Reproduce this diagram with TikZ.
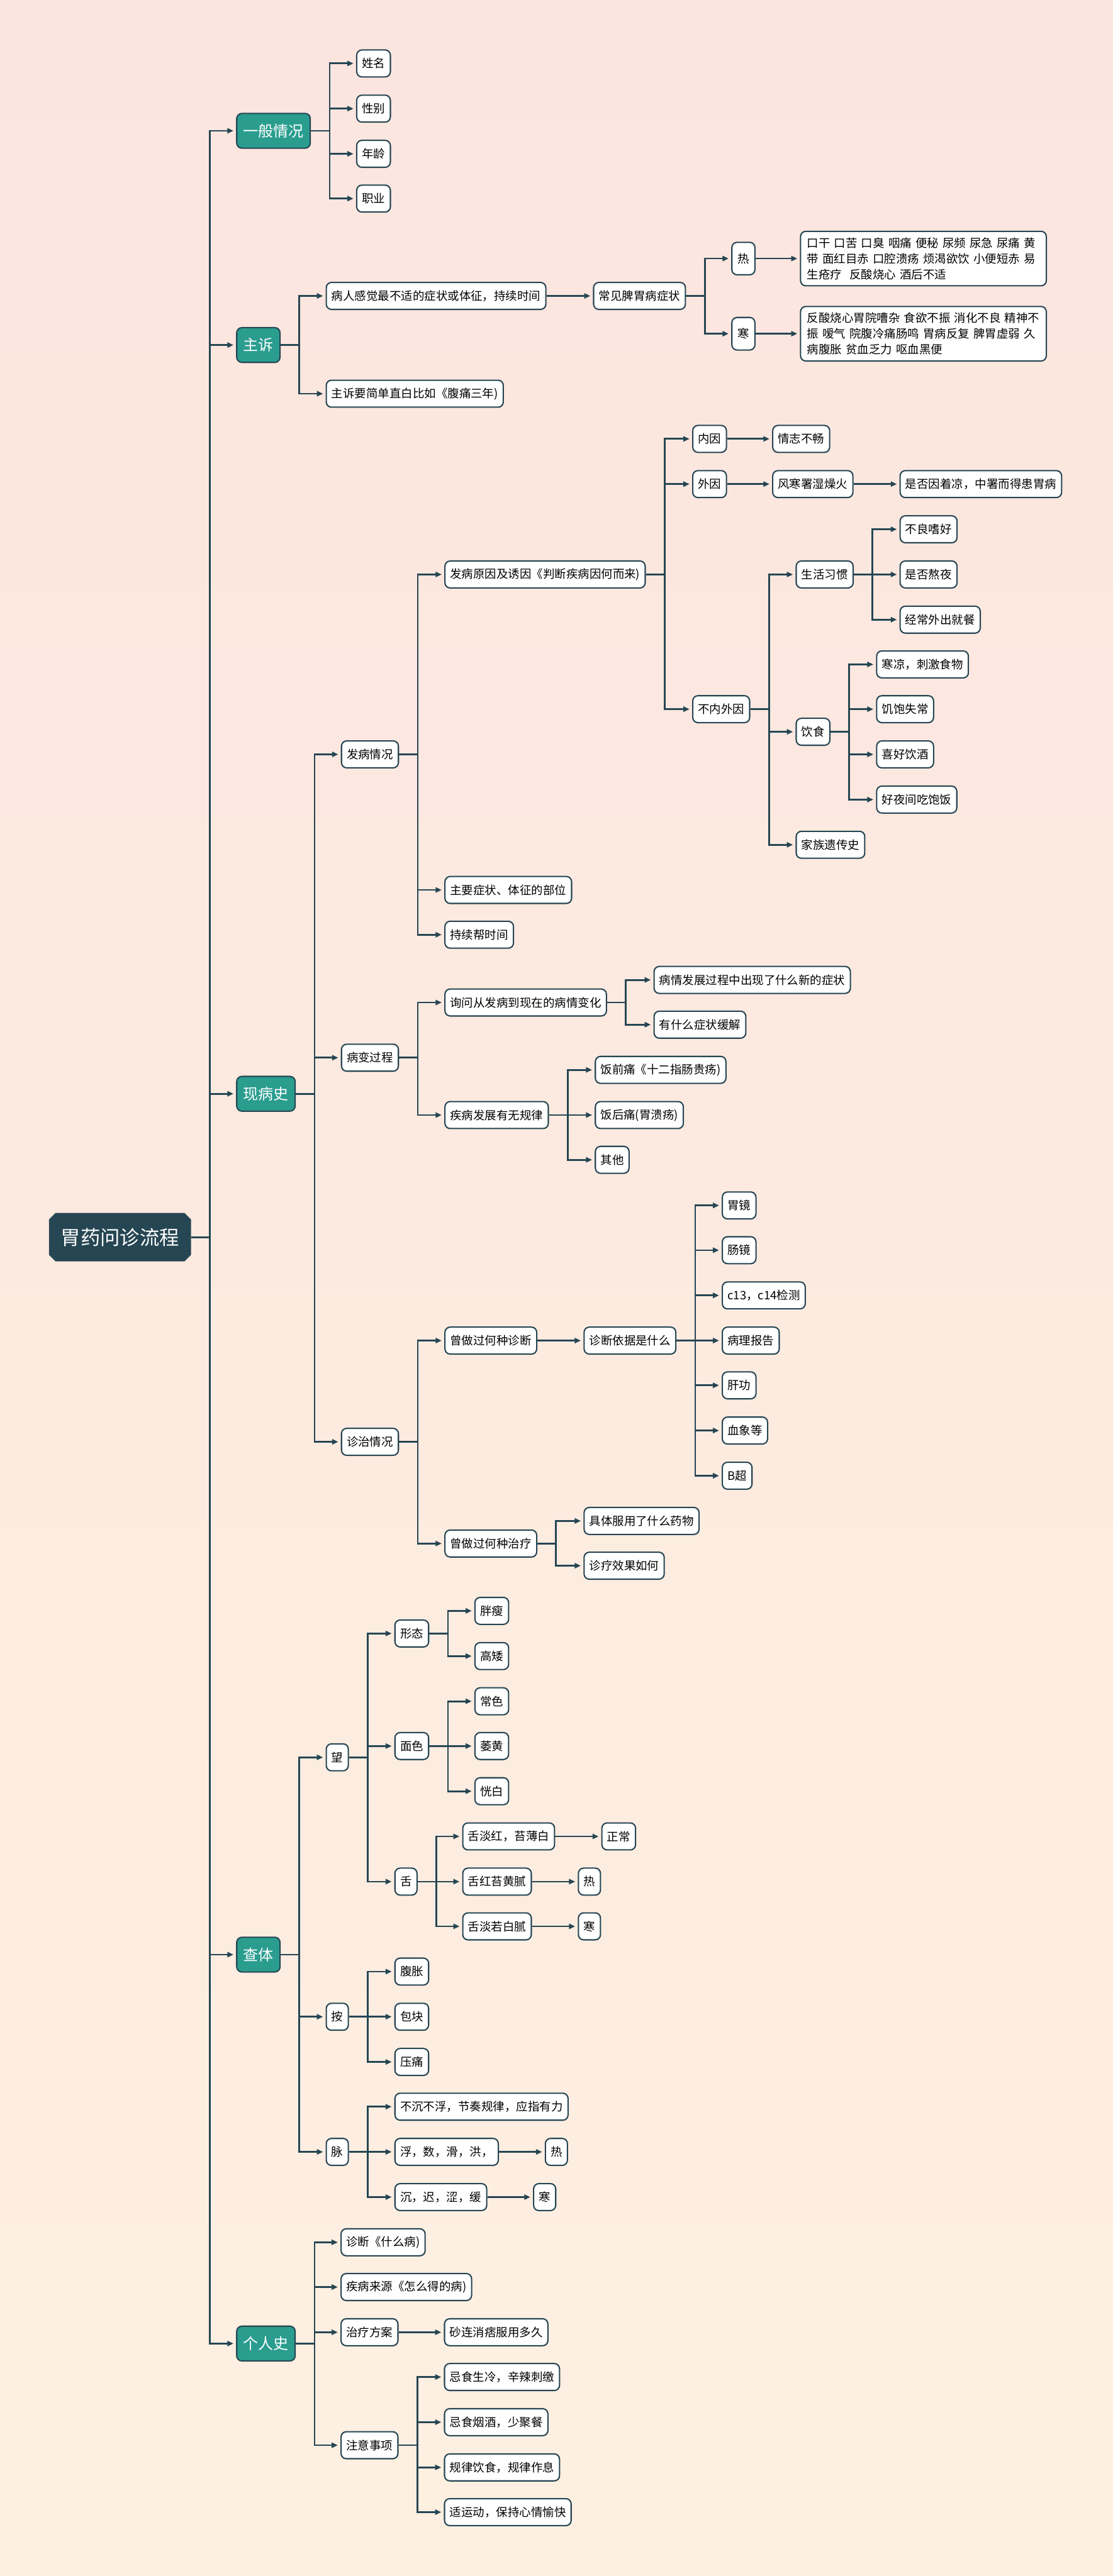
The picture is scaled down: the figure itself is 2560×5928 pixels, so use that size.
\documentclass[tikz,border=0pt]{standalone}
\usepackage{fontspec}
\setmainfont{Noto Sans CJK SC}
\usepackage{xcolor}
\definecolor{slate}{RGB}{38,70,83}
\definecolor{topicgreen}{RGB}{42,157,143}
\definecolor{bgtop}{RGB}{252,229,223}
\definecolor{bgbot}{RGB}{253,240,225}
\usepackage{tikz}
\usetikzlibrary{arrows.meta, backgrounds}

\begin{document}
\begin{tikzpicture}[
    x=0.01cm, y=-0.01cm,
    main/.style={
        rectangle, text=white, inner sep=0pt,
        minimum width=3.25cm, minimum height=1.1cm,
        font=\fontsize{12.9pt}{15pt}\selectfont
    },
    topic/.style={
        rectangle, rounded corners=0.12cm, draw=slate, line width=0.03cm,
        fill=topicgreen, text=white, anchor=west,
        minimum height=0.8cm, inner xsep=0.15cm,
        font=\fontsize{9.9pt}{12pt}\selectfont
    },
    item/.style={
        rectangle, rounded corners=0.12cm, draw=slate, line width=0.03cm,
        fill=white, text=black, anchor=west,
        minimum height=0.62cm, inner xsep=0.12cm,
        font=\fontsize{7.6pt}{10.3pt}\selectfont
    },
    link/.style={draw=slate, line width=0.04cm,
        -{Triangle[length=0.14cm, width=0.12cm]}, shorten >=0.06cm}
]
\begin{scope}[on background layer]
\shade[top color=bgtop, bottom color=bgbot] (0,0) rectangle (2560,5928);
\end{scope}

\node[main] (root) at (276,2847) {胃药问诊流程};
% cut corners of the title box
\begin{scope}[on background layer]
\fill[slate] ([xshift=0.15cm]root.north west) -- ([xshift=-0.15cm]root.north east)
    -- ([yshift=-0.15cm]root.north east) -- ([yshift=0.15cm]root.south east)
    -- ([xshift=-0.15cm]root.south east) -- ([xshift=0.15cm]root.south west)
    -- ([yshift=0.15cm]root.south west) -- ([yshift=-0.15cm]root.north west) -- cycle;
\end{scope}

\node[topic] (gen)      at (543,301)  {一般情况};
\node[topic] (chief)    at (543,794)  {主诉};
\node[topic] (present)  at (543,2517) {现病史};
\node[topic] (exam)     at (543,4498) {查体};
\node[topic] (personal) at (543,5393) {个人史};

% 一般情况
\node[item] (name) at (819,146) {姓名};
\node[item] (sex)  at (819,250) {性别};
\node[item] (age)  at (819,354) {年龄};
\node[item] (job)  at (819,457) {职业};

% 主诉
\node[item] (chiefA) at (749,681) {病人感觉最不适的症状或体征，持续时间};
\node[item] (chiefB) at (749,906) {主诉要简单直白比如《腹痛三年)};
\node[item] (common) at (1364,681) {常见脾胃病症状};
\node[item, minimum width=0.53cm, inner xsep=0.1cm, inner ysep=0.25cm] (hot)  at (1682,595) {热};
\node[item, minimum width=0.53cm, inner xsep=0.1cm, inner ysep=0.25cm] (cold) at (1682,768) {寒};
\node[item, text width=5.35cm, align=left, inner xsep=0.15cm, inner ysep=0.14cm] (hotsym) at (1840,595)
    {口干 口苦 口臭 咽痛 便秘 尿频 尿急 尿痛 黄\\带 面红目赤 口腔溃疡 烦渴欲饮 小便短赤 易\\生疮疗\ \ 反酸烧心 酒后不适};
\node[item, text width=5.35cm, align=left, inner xsep=0.15cm, inner ysep=0.14cm] (coldsym) at (1840,768)
    {反酸烧心胃院嘈杂 食欲不振 消化不良 精神不\\振 嗳气 院腹冷痛肠鸣 胃病反复 脾胃虚弱 久\\病腹胀 贫血乏力 呕血黑便};

% 现病史
\node[item] (onset)  at (784,1736) {发病情况};
\node[item] (course) at (784,2434) {病变过程};
\node[item] (treat)  at (784,3318) {诊治情况};

\node[item] (cause) at (1022,1322) {发病原因及诱因《判断疾病因何而来)};
\node[item] (site)  at (1022,2048) {主要症状、体征的部位};
\node[item] (dur)   at (1022,2151) {持续帮时间};

\node[item] (inner)  at (1592,1010) {内因};
\node[item] (innerA) at (1776,1010) {情志不畅};
\node[item] (outer)  at (1592,1114) {外因};
\node[item] (outerA) at (1776,1114) {风寒署湿燥火};
\node[item] (outerB) at (2069,1114) {是否因着凉，中署而得患胃病};
\node[item] (mixed)  at (1592,1632) {不内外因};

\node[item] (habit)  at (1830,1322) {生活习惯};
\node[item] (habitA) at (2069,1218) {不良嗜好};
\node[item] (habitB) at (2069,1322) {是否熬夜};
\node[item] (habitC) at (2069,1426) {经常外出就餐};
\node[item] (diet)   at (1830,1684) {饮食};
\node[item] (dietA)  at (2015,1529) {寒凉，刺激食物};
\node[item] (dietB)  at (2015,1632) {饥饱失常};
\node[item] (dietC)  at (2015,1736) {喜好饮酒};
\node[item] (dietD)  at (2015,1840) {好夜间吃饱饭};
\node[item] (family) at (1830,1944) {家族遗传史};

\node[item] (ask)   at (1022,2307) {询问从发病到现在的病情变化};
\node[item] (askA)  at (1503,2255) {病情发展过程中出现了什么新的症状};
\node[item] (askB)  at (1503,2358) {有什么症状缓解};
\node[item] (rule)  at (1022,2566) {疾病发展有无规律};
\node[item] (ruleA) at (1368,2462) {饭前痛《十二指肠贵疡)};
\node[item] (ruleB) at (1368,2566) {饭后痛(胃溃疡)};
\node[item] (ruleC) at (1368,2669) {其他};

\node[item] (diag)  at (1022,3085) {曾做过何种诊断};
\node[item] (basis) at (1342,3085) {诊断依据是什么};
\node[item] (exA)   at (1660,2774) {胃镜};
\node[item] (exB)   at (1660,2877) {肠镜};
\node[item] (exC)   at (1660,2981) {c13，c14检测};
\node[item] (exD)   at (1660,3085) {病理报告};
\node[item] (exE)   at (1660,3188) {肝功};
\node[item] (exF)   at (1660,3292) {血象等};
\node[item] (exG)   at (1660,3396) {B超};
\node[item] (cure)  at (1022,3552) {曾做过何种治疗};
\node[item] (cureA) at (1342,3500) {具体服用了什么药物};
\node[item] (cureB) at (1342,3603) {诊疗效果如何};

% 查体
\node[item] (look)    at (749,4044) {望};
\node[item] (shape)   at (907,3759) {形态};
\node[item] (shapeA)  at (1091,3707) {胖瘦};
\node[item] (shapeB)  at (1091,3811) {高矮};
\node[item] (face)    at (907,4018) {面色};
\node[item] (faceA)   at (1091,3915) {常色};
\node[item] (faceB)   at (1091,4018) {萎黄};
\node[item] (faceC)   at (1091,4122) {恍白};
\node[item] (tongue)  at (907,4330) {舌};
\node[item] (tongueA) at (1063,4226) {舌淡红，苔薄白};
\node[item] (tongueB) at (1063,4330) {舌红苔黄腻};
\node[item] (tongueC) at (1063,4433) {舌淡若白腻};
\node[item] (tongueAr) at (1383,4226) {正常};
\node[item] (tongueBr) at (1329,4330) {热};
\node[item] (tongueCr) at (1329,4433) {寒};

\node[item] (press)  at (749,4641) {按};
\node[item] (pressA) at (907,4537) {腹胀};
\node[item] (pressB) at (907,4641) {包块};
\node[item] (pressC) at (907,4745) {压痛};

\node[item] (pulse)   at (749,4952) {脉};
\node[item] (pulseA)  at (907,4848) {不沉不浮，节奏规律，应指有力};
\node[item] (pulseB)  at (907,4952) {浮，数，滑，洪，};
\node[item] (pulseC)  at (907,5056) {沉，迟，涩，缓};
\node[item] (pulseBr) at (1253,4952) {热};
\node[item] (pulseCr) at (1226,5056) {寒};

% 个人史
\node[item] (perA)  at (783,5160) {诊断《什么病)};
\node[item] (perB)  at (783,5263) {疾病来源《怎么得的病)};
\node[item] (plan)  at (783,5367) {治疗方案};
\node[item] (planA) at (1021,5367) {砂连消痞服用多久};
\node[item] (note)  at (783,5627) {注意事项};
\node[item] (noteA) at (1021,5470) {忌食生冷，辛辣刺缴};
\node[item] (noteB) at (1021,5574) {忌食烟酒，少聚餐};
\node[item] (noteC) at (1021,5678) {规律饮食，规律作息};
\node[item] (noteD) at (1021,5781) {适运动，保持心情愉快};

% connectors
\draw[link] (root.east) -- ++(43,0) |- (gen.west);
\draw[link] (root.east) -- ++(43,0) |- (chief.west);
\draw[link] (root.east) -- ++(43,0) |- (present.west);
\draw[link] (root.east) -- ++(43,0) |- (exam.west);
\draw[link] (root.east) -- ++(43,0) |- (personal.west);

\draw[link] (gen.east) -- ++(43,0) |- (name.west);
\draw[link] (gen.east) -- ++(43,0) |- (sex.west);
\draw[link] (gen.east) -- ++(43,0) |- (age.west);
\draw[link] (gen.east) -- ++(43,0) |- (job.west);

\draw[link] (chief.east) -- ++(43,0) |- (chiefA.west);
\draw[link] (chief.east) -- ++(43,0) |- (chiefB.west);
\draw[link] (chiefA.east) -- (common.west);
\draw[link] (common.east) -- ++(43,0) |- (hot.west);
\draw[link] (common.east) -- ++(43,0) |- (cold.west);
\draw[link] (hot.east) -- (hotsym.west);
\draw[link] (cold.east) -- (coldsym.west);

\draw[link] (present.east) -- ++(43,0) |- (onset.west);
\draw[link] (present.east) -- ++(43,0) |- (course.west);
\draw[link] (present.east) -- ++(43,0) |- (treat.west);

\draw[link] (onset.east) -- ++(43,0) |- (cause.west);
\draw[link] (onset.east) -- ++(43,0) |- (site.west);
\draw[link] (onset.east) -- ++(43,0) |- (dur.west);
\draw[link] (cause.east) -- ++(43,0) |- (inner.west);
\draw[link] (cause.east) -- ++(43,0) |- (outer.west);
\draw[link] (cause.east) -- ++(43,0) |- (mixed.west);
\draw[link] (inner.east) -- (innerA.west);
\draw[link] (outer.east) -- (outerA.west);
\draw[link] (outerA.east) -- (outerB.west);
\draw[link] (mixed.east) -- ++(43,0) |- (habit.west);
\draw[link] (mixed.east) -- ++(43,0) |- (diet.west);
\draw[link] (mixed.east) -- ++(43,0) |- (family.west);
\draw[link] (habit.east) -- ++(43,0) |- (habitA.west);
\draw[link] (habit.east) -- ++(43,0) |- (habitB.west);
\draw[link] (habit.east) -- ++(43,0) |- (habitC.west);
\draw[link] (diet.east) -- ++(43,0) |- (dietA.west);
\draw[link] (diet.east) -- ++(43,0) |- (dietB.west);
\draw[link] (diet.east) -- ++(43,0) |- (dietC.west);
\draw[link] (diet.east) -- ++(43,0) |- (dietD.west);

\draw[link] (course.east) -- ++(43,0) |- (ask.west);
\draw[link] (course.east) -- ++(43,0) |- (rule.west);
\draw[link] (ask.east) -- ++(43,0) |- (askA.west);
\draw[link] (ask.east) -- ++(43,0) |- (askB.west);
\draw[link] (rule.east) -- ++(43,0) |- (ruleA.west);
\draw[link] (rule.east) -- ++(43,0) |- (ruleB.west);
\draw[link] (rule.east) -- ++(43,0) |- (ruleC.west);

\draw[link] (treat.east) -- ++(43,0) |- (diag.west);
\draw[link] (treat.east) -- ++(43,0) |- (cure.west);
\draw[link] (diag.east) -- (basis.west);
\draw[link] (basis.east) -- ++(43,0) |- (exA.west);
\draw[link] (basis.east) -- ++(43,0) |- (exB.west);
\draw[link] (basis.east) -- ++(43,0) |- (exC.west);
\draw[link] (basis.east) -- ++(43,0) |- (exD.west);
\draw[link] (basis.east) -- ++(43,0) |- (exE.west);
\draw[link] (basis.east) -- ++(43,0) |- (exF.west);
\draw[link] (basis.east) -- ++(43,0) |- (exG.west);
\draw[link] (cure.east) -- ++(43,0) |- (cureA.west);
\draw[link] (cure.east) -- ++(43,0) |- (cureB.west);

\draw[link] (exam.east) -- ++(43,0) |- (look.west);
\draw[link] (exam.east) -- ++(43,0) |- (press.west);
\draw[link] (exam.east) -- ++(43,0) |- (pulse.west);
\draw[link] (look.east) -- ++(43,0) |- (shape.west);
\draw[link] (look.east) -- ++(43,0) |- (face.west);
\draw[link] (look.east) -- ++(43,0) |- (tongue.west);
\draw[link] (shape.east) -- ++(43,0) |- (shapeA.west);
\draw[link] (shape.east) -- ++(43,0) |- (shapeB.west);
\draw[link] (face.east) -- ++(43,0) |- (faceA.west);
\draw[link] (face.east) -- ++(43,0) |- (faceB.west);
\draw[link] (face.east) -- ++(43,0) |- (faceC.west);
\draw[link] (tongue.east) -- ++(43,0) |- (tongueA.west);
\draw[link] (tongue.east) -- ++(43,0) |- (tongueB.west);
\draw[link] (tongue.east) -- ++(43,0) |- (tongueC.west);
\draw[link] (tongueA.east) -- (tongueAr.west);
\draw[link] (tongueB.east) -- (tongueBr.west);
\draw[link] (tongueC.east) -- (tongueCr.west);
\draw[link] (press.east) -- ++(43,0) |- (pressA.west);
\draw[link] (press.east) -- ++(43,0) |- (pressB.west);
\draw[link] (press.east) -- ++(43,0) |- (pressC.west);
\draw[link] (pulse.east) -- ++(43,0) |- (pulseA.west);
\draw[link] (pulse.east) -- ++(43,0) |- (pulseB.west);
\draw[link] (pulse.east) -- ++(43,0) |- (pulseC.west);
\draw[link] (pulseB.east) -- (pulseBr.west);
\draw[link] (pulseC.east) -- (pulseCr.west);

\draw[link] (personal.east) -- ++(43,0) |- (perA.west);
\draw[link] (personal.east) -- ++(43,0) |- (perB.west);
\draw[link] (personal.east) -- ++(43,0) |- (plan.west);
\draw[link] (personal.east) -- ++(43,0) |- (note.west);
\draw[link] (plan.east) -- (planA.west);
\draw[link] (note.east) -- ++(43,0) |- (noteA.west);
\draw[link] (note.east) -- ++(43,0) |- (noteB.west);
\draw[link] (note.east) -- ++(43,0) |- (noteC.west);
\draw[link] (note.east) -- ++(43,0) |- (noteD.west);
\end{tikzpicture}
\end{document}
